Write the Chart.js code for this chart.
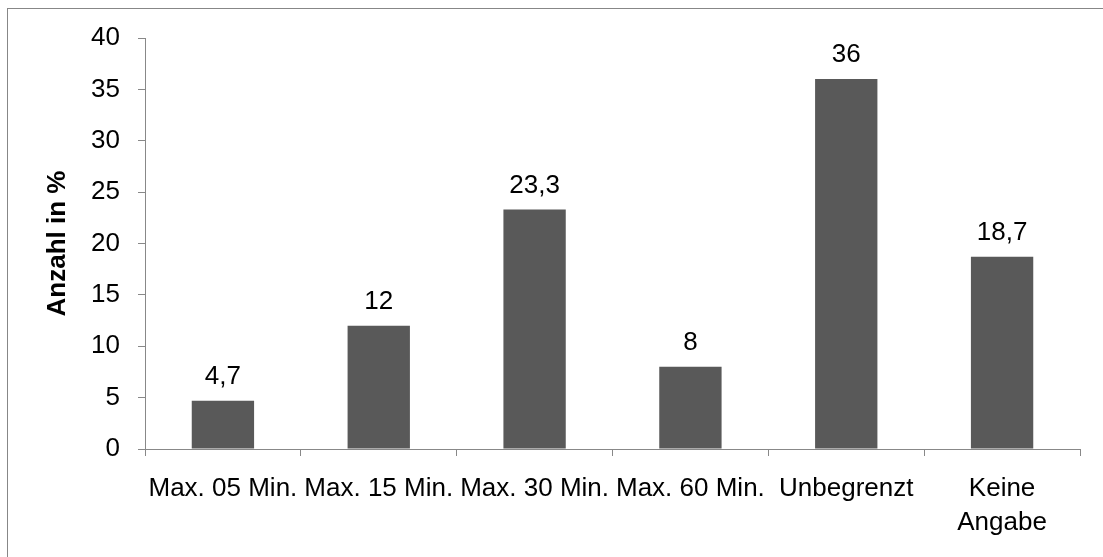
<!DOCTYPE html>
<html>
<head>
<meta charset="utf-8">
<script src="https://cdn.jsdelivr.net/npm/chart.js@4"></script>
<style>
  html, body { margin: 0; padding: 0; background: #fff; }
  #wrap { position: relative; width: 1103px; height: 557px; overflow: hidden; }
  #frame { position: absolute; left: 7px; top: 8px; width: 1200px; height: 700px;
           border-left: 1px solid #878787; border-top: 1px solid #878787; }
  #chart { position: absolute; left: 0; top: 0; }
</style>
</head>
<body>
<div id="wrap">
  <div id="frame"></div>
  <canvas id="chart" width="1103" height="557"></canvas>
</div>
<script>
let categories = ["Max. 05 Min.", "Max. 15 Min.", "Max. 30 Min.", "Max. 60 Min.", "Unbegrenzt", ["Keine", "Angabe"]];
let values = [4.7, 12, 23.3, 8, 36, 18.7];
let yTicks = [0, 5, 10, 15, 20, 25, 30, 35, 40];

const FONT = "'Liberation Sans', Arial, sans-serif";
const axisColor = "#888888";

// draws the value above each bar, with a german decimal comma
const valueLabels = {
    id: "valueLabels",
    afterDatasetsDraw(chart) {
        let ctx = chart.ctx;
        let meta = chart.getDatasetMeta(0);
        ctx.save();
        ctx.font = "26px " + FONT;
        ctx.fillStyle = "#000";
        ctx.textAlign = "center";
        ctx.textBaseline = "alphabetic";
        meta.data.forEach((bar, i) => {
            let txt = String(values[i]).replace(".", ",");
            ctx.fillText(txt, bar.x, bar.y - 17);
        });
        ctx.restore();
    }
};

new Chart(document.getElementById("chart"), {
    type: "bar",
    data: {
        labels: categories,
        datasets: [{
            data: values,
            backgroundColor: "#595959",
            borderWidth: 0,
            barPercentage: 0.8,
            categoryPercentage: 0.5
        }]
    },
    options: {
        responsive: false,
        animation: false,
        layout: { padding: { top: 38, right: 23, bottom: 0, left: 0 } },
        plugins: {
            legend: { display: false },
            tooltip: { enabled: false }
        },
        scales: {
            x: {
                grid: {
                    display: true,
                    drawOnChartArea: false,
                    drawTicks: true,
                    tickLength: 7,
                    color: axisColor,
                    offset: true
                },
                border: { color: axisColor, width: 1 },
                ticks: {
                    color: "#000",
                    font: { family: FONT, size: 26, lineHeight: 1.3 },
                    padding: 16,
                    maxRotation: 0,
                    minRotation: 0,
                    autoSkip: false
                },
                afterFit(scale) { scale.height = 108; }
            },
            y: {
                min: 0,
                max: 40,
                afterBuildTicks(scale) { scale.ticks = yTicks.map(v => ({ value: v })); },
                grid: {
                    display: true,
                    drawOnChartArea: false,
                    drawTicks: true,
                    tickLength: 7,
                    color: axisColor
                },
                border: { color: axisColor, width: 1 },
                ticks: {
                    color: "#000",
                    font: { family: FONT, size: 26 },
                    padding: 18
                },
                title: {
                    display: true,
                    text: "Anzahl in %",
                    color: "#000",
                    font: { family: FONT, size: 26, weight: "bold", lineHeight: 1.2 },
                    padding: { top: 42, bottom: 0 }
                },
                afterFit(scale) { scale.width = 145; }
            }
        }
    },
    plugins: [valueLabels]
});
</script>
</body>
</html>
